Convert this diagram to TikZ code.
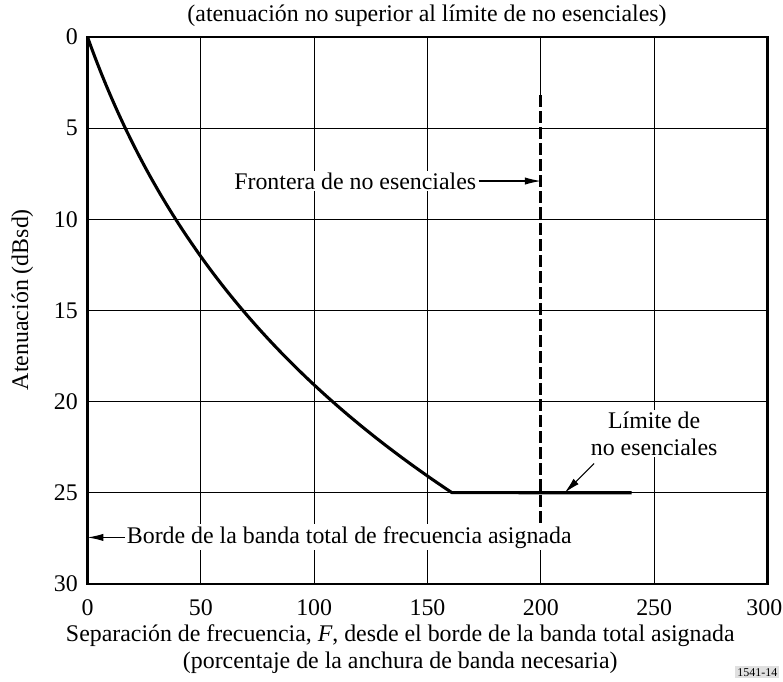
\documentclass[tikz,border=0pt]{standalone}
\usepackage{fontspec}
\setmainfont{Liberation Serif}
\usetikzlibrary{arrows.meta}
\begin{document}
\begin{tikzpicture}[x=1.7pt,y=-13.6725pt,
  font=\fontsize{17.9}{20.25}\selectfont,
  frame/.style={line width=1.6pt},
  gridline/.style={line width=0.75pt},
  curve/.style={line width=2.3pt},
  boundary/.style={line width=2.3pt,dash pattern=on 9pt off 3pt},
  lbl/.style={fill=white,inner sep=1.5pt},
  tip/.style={-{Latex[length=12pt,width=5.5pt]},line width=0.8pt}]
\useasboundingbox (-38.6,-2.03) rectangle (306.84,35.33);
% grid
\foreach \x in {50,100,150,250} \draw[gridline] (\x,0) -- (\x,30);
\draw[gridline] (200,0) -- (200,3.2);
\draw[gridline] (200,28) -- (200,30);
\foreach \y in {5,10,15,20,25} \draw[gridline] (0,\y) -- (300,\y);
% frame
\draw[frame] (0,0) rectangle (300,30);
% tick labels
\foreach \y in {0,5,...,30} \node[anchor=east,inner sep=0pt] (yl\y) at (-4.2,\y) {\y};
\foreach \x in {0,50,...,250} \node[inner sep=0pt] (xl\x) at (\x,31.3) {\x};
\node[anchor=east,inner sep=0pt] (xl300) at (306.6,31.3) {300};
% axis titles
\node[rotate=90] (ytitle) at (-28.7,14.4) {Atenuación (dBsd)};
\node (xtitle1) at (138,32.85) {Separación de frecuencia, \textit{F}, desde el borde de la banda total asignada};
\node (xtitle2) at (138,34.3) {(porcentaje de la anchura de banda necesaria)};
\node (title) at (149.8,-1.15) {(atenuación no superior al límite de no esenciales)};
% mask curve
\draw[curve,line join=round] plot[domain=0:160.8,samples=80,smooth] (\x,{40*log10(\x/50+1)}) -- (240,25);
% spurious boundary
\coordinate (btop) at (200,3.2);
\coordinate (bbot) at (200,28);
\draw[boundary] (btop) -- (bbot);
% labels
\node[lbl,anchor=east] (front) at (172.5,7.9) {Frontera de no esenciales};
\coordinate (fend) at (200,7.9);
\draw[tip] (front.east) -- (fend);
\node[lbl,anchor=west] (borde) at (16.4,27.45) {Borde de la banda total de frecuencia asignada};
\coordinate (bend) at (0,27.45);
\draw[tip] (borde.west) -- (bend);
\node[lbl,align=center] (lim) at (250,21.75) {Límite de\\no esenciales};
\coordinate (lstart) at (223.5,23.4);
\coordinate (lend) at (210.5,25);
\draw[tip] (lstart) -- (lend);
% figure number
\node[fill=black!12,inner sep=1.5pt,font=\fontsize{9}{10}\selectfont] (fig) at (295.5,34.85) {1541-14};
\end{tikzpicture}
\end{document}
